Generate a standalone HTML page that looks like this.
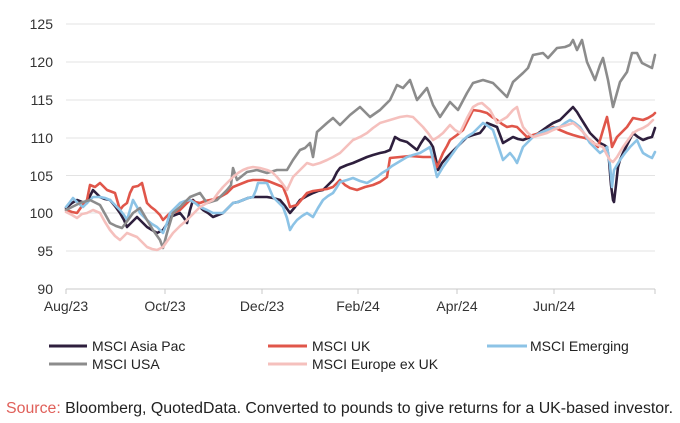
<!DOCTYPE html>
<html><head><meta charset="utf-8">
<style>
html,body{margin:0;padding:0;background:#fff;}
svg{display:block;}
text{font-family:"Liberation Sans",Arial,sans-serif;}
</style></head>
<body>
<svg width="680" height="423" viewBox="0 0 680 423" xmlns="http://www.w3.org/2000/svg">
<rect width="680" height="423" fill="#fff"/>
<g stroke="#e3e3e3" stroke-width="1">
<line x1="66" y1="24" x2="655" y2="24"/>
<line x1="66" y1="62" x2="655" y2="62"/>
<line x1="66" y1="100" x2="655" y2="100"/>
<line x1="66" y1="138" x2="655" y2="138"/>
<line x1="66" y1="175.5" x2="655" y2="175.5"/>
<line x1="66" y1="213" x2="655" y2="213"/>
<line x1="66" y1="251" x2="655" y2="251"/>
</g>
<g stroke="#c8c8c8" stroke-width="1">
<line x1="66" y1="289" x2="655" y2="289"/>
<line x1="66" y1="289" x2="66" y2="294"/>
<line x1="165" y1="289" x2="165" y2="294"/>
<line x1="262" y1="289" x2="262" y2="294"/>
<line x1="358" y1="289" x2="358" y2="294"/>
<line x1="457" y1="289" x2="457" y2="294"/>
<line x1="554" y1="289" x2="554" y2="294"/>
<line x1="655" y1="289" x2="655" y2="294"/>
</g>
<g font-size="14" fill="#333" text-anchor="end">
<text x="53" y="29">125</text>
<text x="53" y="67">120</text>
<text x="53" y="105">115</text>
<text x="53" y="143">110</text>
<text x="53" y="181">105</text>
<text x="53" y="218">100</text>
<text x="53" y="256">95</text>
<text x="53" y="294">90</text>
</g>
<g font-size="14" fill="#333" text-anchor="middle">
<text x="66" y="311">Aug/23</text>
<text x="165" y="311">Oct/23</text>
<text x="262" y="311">Dec/23</text>
<text x="358" y="311">Feb/24</text>
<text x="457" y="311">Apr/24</text>
<text x="554" y="311">Jun/24</text>
</g>
<g fill="none" stroke-width="2.6" stroke-linejoin="round" stroke-linecap="round">
<!-- Asia Pac -->
<polyline stroke="#2e1f3d" points="66,208 72,203 77,200 82,202 87,203 90,196 93,190 97,194 100,197 105,199 110,200 115,206 120,213 124,220 127,227 132,222 137,217 142,222 147,227 152,230 157,233 163,230 167,224 170,217 175,215 180,213 184,218 187,223 190,210 193,200 198,205 203,210 208,213 213,217 218,215 223,213 228,208 233,203 238,202 243,200 248,198 253,197 260,197 267,197 273,198 280,200 285,206 290,213 295,207 300,200 307,196 313,193 318,191 323,190 328,185 333,180 337,172 340,168 347,165 353,163 360,160 367,157 373,155 380,153 385,152 390,150 395,137 400,140 407,142 412,146 417,150 421,143 425,137 430,142 433,147 436,160 438,170 442,163 447,157 452,152 457,147 462,142 467,137 473,135 480,133 484,128 487,123 492,125 497,127 500,135 503,143 508,140 513,137 518,139 523,140 528,138 533,137 540,132 547,127 553,123 560,120 567,113 573,107 577,112 580,117 585,125 590,133 595,138 600,143 604,145 607,147 609,160 611,185 613,200 614,202 616,185 618,167 620,160 623,153 628,143 633,133 638,137 643,140 648,138 652,137 655,128"/>
<!-- UK -->
<polyline stroke="#e0564a" points="66,210 72,212 77,213 82,206 87,200 90,185 95,187 100,183 107,190 115,193 120,210 123,206 127,203 130,193 133,187 138,186 142,183 147,203 151,207 155,210 160,215 163,220 167,216 170,213 175,212 180,210 185,205 190,200 195,202 200,203 205,201 210,200 215,199 220,197 227,193 233,187 238,185 243,183 248,181 253,180 258,180 263,180 268,181 273,183 278,185 283,187 287,197 290,207 297,205 302,199 307,193 313,191 320,190 327,189 333,187 340,180 345,185 350,188 357,190 365,187 373,185 380,182 387,177 390,158 400,157 410,156 423,157 433,157 437,167 440,160 443,153 447,146 450,140 457,135 463,130 468,120 473,110 480,111 487,113 492,117 497,120 502,124 507,127 512,126 517,127 522,132 527,137 533,135 540,133 547,130 553,127 560,130 567,133 573,135 580,137 585,138 590,140 595,144 598,147 603,130 607,117 610,133 612,147 617,137 622,132 627,127 633,118 638,119 643,120 648,118 653,115 655,113"/>
<!-- Emerging -->
<polyline stroke="#8cc3e6" points="66,207 70,202 73,198 78,203 83,207 88,202 93,197 100,197 105,198 110,200 115,205 120,210 124,215 127,220 130,210 133,200 137,207 140,213 144,217 147,220 152,224 157,227 160,230 163,233 167,223 170,213 175,208 180,203 185,201 190,200 195,203 200,207 207,210 213,213 218,213 223,213 228,208 233,203 238,202 243,200 248,198 253,197 256,190 258,183 262,183 267,183 270,190 273,197 278,202 283,207 287,218 290,230 293,225 297,220 302,216 307,213 310,215 313,217 318,208 323,200 328,196 333,193 337,187 340,182 347,180 353,178 360,181 367,183 372,180 377,177 382,173 387,170 392,166 397,163 402,160 407,157 413,155 420,153 425,150 430,147 433,160 437,177 440,172 443,167 448,160 453,153 458,146 463,140 468,136 473,133 478,128 483,123 488,126 493,130 498,145 503,160 507,156 510,153 514,158 517,163 520,155 523,147 528,142 533,137 540,133 547,130 553,128 560,127 565,123 570,120 575,123 580,127 585,135 590,143 595,148 600,153 604,150 607,147 610,165 612,187 614,170 617,165 620,160 625,153 630,147 634,143 637,140 640,147 643,153 648,156 652,158 655,152"/>
<!-- USA -->
<polyline stroke="#8c8c8c" points="66,210 72,207 80,203 90,200 100,205 110,223 116,226 122,228 128,220 133,213 140,208 147,220 153,230 160,240 163,248 167,233 173,213 180,207 190,197 200,193 207,203 217,200 227,190 231,185 233,168 237,180 247,172 257,170 267,173 277,170 287,170 293,160 300,150 305,148 310,143 313,157 317,132 327,123 333,118 340,125 350,115 360,107 370,117 380,110 390,100 397,85 403,88 410,80 417,100 427,88 433,105 440,117 450,102 458,110 467,93 473,83 483,80 493,83 500,90 507,97 513,82 523,73 528,68 533,55 543,53 548,58 557,48 565,47 570,45 573,40 577,50 582,40 587,62 595,80 600,65 603,58 608,80 613,107 620,82 627,72 632,53 637,53 642,63 652,68 655,55"/>
<!-- Europe ex UK -->
<polyline stroke="#f5c0bd" points="66,212 72,215 77,218 82,214 87,213 93,210 100,213 105,222 110,230 115,236 120,240 127,233 132,235 137,237 142,242 147,247 152,249 157,250 163,247 168,240 173,233 180,226 187,220 193,214 200,207 207,203 213,200 218,193 223,187 228,182 233,177 238,173 243,170 248,168 253,167 260,168 267,170 272,172 277,177 282,183 287,190 293,177 300,170 307,163 313,165 320,163 327,160 333,157 340,153 347,146 353,140 360,137 367,133 373,128 380,123 390,120 400,117 407,116 413,117 418,122 423,127 428,133 433,140 438,137 443,133 450,125 455,130 460,133 467,118 473,107 478,104 482,103 490,110 497,123 502,120 507,117 513,110 517,107 520,118 523,127 528,133 533,137 540,135 547,133 553,130 560,127 567,125 573,123 578,127 583,132 588,138 593,143 598,145 603,147 607,155 610,160 613,162 617,157 623,147 628,140 633,133 638,130 643,128 648,125 653,120"/>
</g>
<!-- Legend -->
<g stroke-width="3">
<line x1="49" y1="346" x2="87" y2="346" stroke="#2e1f3d"/>
<line x1="268" y1="346" x2="307" y2="346" stroke="#e0564a"/>
<line x1="487" y1="346" x2="527" y2="346" stroke="#8cc3e6"/>
<line x1="49" y1="364" x2="87" y2="364" stroke="#8c8c8c"/>
<line x1="268" y1="364" x2="307" y2="364" stroke="#f5c0bd"/>
</g>
<g font-size="14" fill="#222">
<text x="92" y="351">MSCI Asia Pac</text>
<text x="312" y="351">MSCI UK</text>
<text x="530" y="351">MSCI Emerging</text>
<text x="92" y="369">MSCI USA</text>
<text x="312" y="369">MSCI Europe ex UK</text>
</g>
<text x="6" y="413" font-size="15.5" fill="#222" textLength="667" lengthAdjust="spacingAndGlyphs"><tspan fill="#e0605a">Source:</tspan> Bloomberg, QuotedData. Converted to pounds to give returns for a UK-based investor.</text>
</svg>
</body></html>
